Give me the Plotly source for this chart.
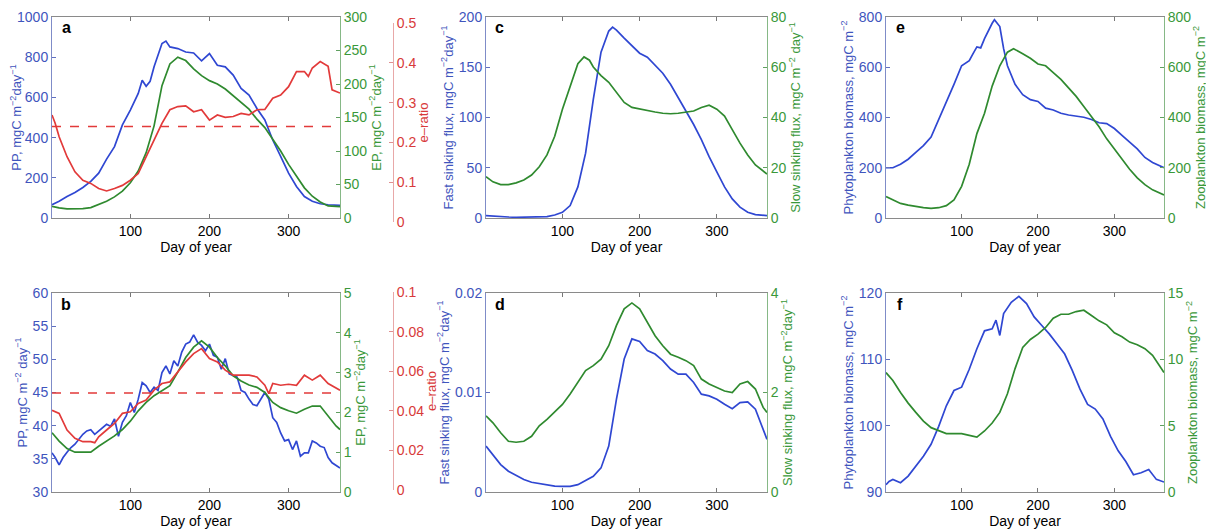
import plotly.graph_objects as go

# ---------------- data ----------------
# Panel a
a_pp_days = [1, 10, 20, 30, 40, 50, 60, 70, 80, 90, 100, 110, 115, 120, 125, 130, 140, 145, 150, 160, 170, 180, 190, 200,
             210, 220, 230, 240, 250, 260, 270, 280, 290, 300, 310, 320, 330, 340, 350, 360, 365]
a_pp = [66, 83, 107, 127, 152, 182, 223, 293, 355, 463, 537, 620, 685, 655, 680, 752, 868, 880, 851, 843, 826, 821, 782, 818,
        760, 752, 711, 645, 612, 545, 488, 388, 306, 223, 157, 107, 83, 71, 66, 66, 63]
a_ep_days = [1, 10, 20, 30, 40, 50, 60, 70, 80, 90, 100, 110, 120, 130, 140, 150, 160, 170, 180, 190, 200, 210, 220, 230,
             240, 250, 260, 270, 280, 290, 300, 310, 320, 330, 340, 350, 365]
a_ep = [17.5, 15, 13.5, 13.5, 14, 15.5, 20, 25, 31.5, 40, 52.5, 70, 97.5, 137.5, 197.5, 230, 240, 235, 222.5, 212.5, 205, 200,
        192.5, 182.5, 172.5, 162.5, 147.5, 135, 117.5, 100, 80, 62.5, 45, 32.5, 24, 18, 17]
a_er_days = [1, 5, 10, 20, 30, 40, 50, 60, 70, 80, 90, 100, 110, 120, 130, 140, 150, 160, 170, 180, 190, 200, 210, 220, 230,
             240, 250, 260, 270, 280, 290, 300, 310, 320, 325, 330, 340, 350, 355, 365]
a_er = [0.269, 0.248, 0.214, 0.164, 0.126, 0.105, 0.097, 0.084, 0.078, 0.084, 0.092, 0.105, 0.122, 0.164, 0.206, 0.248,
        0.282, 0.290, 0.292, 0.277, 0.282, 0.256, 0.269, 0.263, 0.265, 0.273, 0.269, 0.282, 0.283, 0.311, 0.319, 0.340,
        0.378, 0.378, 0.366, 0.387, 0.403, 0.391, 0.332, 0.324]
a_er_mean = 0.24

# Panel b
b_pp_days = [1, 5, 10, 15, 20, 25, 30, 35, 40, 45, 50, 55, 60, 65, 70, 75, 80, 85, 90, 95, 100, 105, 110, 115, 120, 125,
             130, 135, 140, 145, 150, 155, 160, 165, 170, 175, 180, 185, 190, 195, 200, 205, 210, 215, 220, 225, 230, 235,
             240, 245, 250, 255, 260, 265, 270, 275, 280, 285, 290, 295, 300, 305, 310, 315, 320, 325, 330, 335, 340, 345,
             350, 355, 365]
b_pp = [35.9, 35.2, 34.1, 35.2, 36.0, 36.7, 37.2, 37.9, 38.7, 39.2, 39.4, 38.7, 39.2, 39.7, 40.2, 39.9, 41.0, 38.4, 40.5,
        41.5, 43.5, 42.0, 44.0, 46.5, 46.0, 45.0, 45.8, 45.3, 48.0, 49.0, 47.8, 49.8, 49.0, 51.1, 52.3, 52.6, 53.7, 52.6,
        52.1, 51.3, 52.3, 50.6, 50.3, 48.5, 50.1, 47.8, 47.5, 47.3, 45.3, 45.0, 44.0, 43.2, 43.0, 44.0, 45.0, 44.0, 41.2,
        40.5, 38.9, 37.7, 37.9, 36.4, 37.7, 35.4, 35.9, 35.9, 37.7, 37.4, 36.9, 36.7, 35.2, 34.4, 33.6]
b_ep_days = [1, 10, 20, 30, 40, 50, 60, 70, 80, 90, 100, 110, 120, 130, 140, 150, 160, 170, 180, 190, 200, 210, 220, 230,
             240, 250, 260, 270, 280, 290, 300, 310, 320, 330, 340, 350, 360, 365]
b_ep = [1.49, 1.28, 1.09, 1.00, 1.00, 1.00, 1.15, 1.28, 1.41, 1.57, 1.78, 2.04, 2.25, 2.42, 2.54, 2.67, 3.01, 3.38, 3.64,
        3.80, 3.64, 3.38, 3.17, 2.92, 2.79, 2.69, 2.63, 2.50, 2.25, 2.12, 2.04, 1.98, 2.08, 2.16, 2.16, 1.91, 1.66, 1.57]
b_er_days = [1, 10, 20, 30, 40, 50, 55, 60, 70, 80, 90, 100, 110, 120, 130, 140, 150, 160, 170, 180, 190, 200, 210, 220,
             230, 240, 250, 260, 270, 275, 280, 290, 300, 310, 320, 330, 340, 350, 360, 365]
b_er = [0.0403, 0.0387, 0.0303, 0.0261, 0.0244, 0.0244, 0.0239, 0.0269, 0.0303, 0.0336, 0.0387, 0.0395, 0.0437, 0.0454,
        0.0504, 0.0538, 0.0546, 0.0597, 0.0647, 0.0689, 0.0714, 0.0664, 0.0647, 0.0605, 0.0580, 0.0580, 0.0580, 0.0571,
        0.0529, 0.0487, 0.0538, 0.0529, 0.0534, 0.0529, 0.0580, 0.0555, 0.0580, 0.0538, 0.0513, 0.0504]
b_er_mean = 0.049

# Panel c
c_days = [1, 10, 20, 30, 40, 50, 60, 70, 80, 90, 100, 110, 120, 130, 140, 150, 160, 165, 170, 180, 190, 200, 210, 220,
          230, 240, 250, 260, 270, 280, 290, 300, 310, 320, 330, 340, 350, 365]
c_fast = [2.4, 1.8, 1.3, 1.0, 0.7, 0.7, 0.7, 1.0, 1.3, 3, 5.7, 12.4, 30.9, 64.5, 118, 165, 186, 190, 187, 179, 172, 164,
          160, 152, 144, 133, 120, 107, 93, 78, 61, 46, 31, 19, 10.8, 5.7, 3.4, 2.4]
c_slow_days = [1, 10, 20, 30, 40, 50, 60, 70, 80, 90, 100, 110, 120, 128, 135, 140, 150, 160, 170, 180, 190, 200, 210,
               220, 230, 240, 250, 260, 270, 280, 290, 300, 310, 320, 330, 340, 350, 365]
c_slow = [16.4, 14.4, 13.3, 13.3, 14.0, 15.1, 17.1, 20.4, 25.1, 32.5, 43.3, 52.7, 61.4, 64.1, 62.8, 60.1, 56.7, 54.0,
          50.0, 46.0, 44.0, 43.3, 42.6, 42.2, 41.7, 41.5, 41.7, 42.2, 42.6, 44.0, 44.9, 43.3, 40.6, 35.2, 29.8, 25.1, 21.1,
          17.5]

# Panel d
d_days = [1, 10, 20, 30, 40, 50, 60, 70, 80, 90, 100, 110, 120, 130, 140, 150, 160, 170, 180, 190, 200, 210, 220, 230,
          240, 250, 260, 270, 280, 290, 300, 310, 320, 330, 340, 350, 360, 365]
d_fast = [0.00461, 0.00377, 0.00276, 0.00209, 0.00165, 0.00125, 0.00098, 0.00084, 0.00074, 0.00060, 0.00057, 0.00057,
          0.00074, 0.00118, 0.00158, 0.00242, 0.00461, 0.00933, 0.01337, 0.01539, 0.01512, 0.01421, 0.01387, 0.01320,
          0.01236, 0.01185, 0.01185, 0.01101, 0.00983, 0.00966, 0.00933, 0.00882, 0.00838, 0.00899, 0.00906, 0.00832,
          0.00630, 0.00529]
d_slow = [1.53, 1.39, 1.19, 1.02, 1.00, 1.02, 1.12, 1.33, 1.46, 1.60, 1.76, 1.97, 2.20, 2.44, 2.54, 2.67, 2.94, 3.35,
          3.68, 3.80, 3.68, 3.41, 3.14, 2.94, 2.77, 2.71, 2.64, 2.54, 2.27, 2.17, 2.10, 2.03, 2.00, 2.17, 2.22, 2.07, 1.70,
          1.60]

# Panel e
e_phy_days = [1, 10, 20, 30, 40, 50, 60, 70, 80, 90, 100, 110, 115, 120, 125, 130, 140, 143, 150, 155, 160, 170, 180,
              190, 200, 210, 220, 230, 240, 250, 260, 270, 280, 290, 300, 310, 320, 330, 340, 350, 365]
e_phy = [200, 200, 214, 234, 261, 288, 322, 390, 457, 532, 606, 626, 654, 681, 677, 714, 775, 789, 762, 674, 606, 532,
         491, 471, 464, 437, 430, 417, 410, 406, 401, 392, 379, 376, 356, 329, 302, 275, 241, 221, 200]
e_zoo_days = [1, 10, 20, 30, 40, 50, 60, 70, 80, 90, 100, 110, 120, 130, 140, 150, 160, 168, 180, 190, 200, 210, 220,
              230, 240, 250, 260, 270, 280, 290, 300, 310, 320, 330, 340, 350, 365]
e_zoo = [85, 72, 58, 51, 45, 41, 38, 41, 49, 72, 126, 214, 336, 417, 525, 606, 660, 674, 654, 636, 613, 606, 579, 552,
         518, 484, 444, 403, 363, 315, 275, 234, 194, 160, 133, 112, 92]

# Panel f
f_phy_days = [1, 5, 10, 20, 30, 40, 50, 60, 70, 80, 90, 100, 110, 120, 130, 140, 145, 150, 155, 165, 175, 185, 195, 205,
              215, 225, 235, 245, 255, 265, 275, 285, 295, 305, 315, 325, 335, 345, 355, 365]
f_phy = [91.1, 91.6, 91.9, 91.4, 92.4, 93.9, 95.4, 97.2, 99.9, 103.0, 105.3, 105.8, 108.5, 111.6, 114.3, 114.6, 115.9,
         113.6, 116.9, 118.6, 119.5, 118.4, 116.4, 115.1, 113.8, 112.3, 110.8, 108.3, 105.5, 103.2, 102.5, 101.0, 98.4,
         96.2, 94.6, 92.6, 92.9, 93.4, 91.9, 91.5]
f_zoo_days = [1, 10, 20, 30, 40, 50, 60, 70, 80, 90, 100, 110, 120, 130, 140, 150, 160, 170, 180, 190, 200, 210, 220,
              230, 240, 250, 260, 270, 280, 290, 300, 310, 320, 330, 340, 350, 360, 365]
f_zoo = [9.0, 8.4, 7.5, 6.7, 6.0, 5.35, 4.85, 4.6, 4.4, 4.4, 4.4, 4.27, 4.14, 4.6, 5.2, 6.0, 7.4, 9.3, 10.9, 11.5, 11.9,
         12.4, 13.1, 13.4, 13.4, 13.6, 13.7, 13.3, 12.9, 12.6, 12.0, 11.7, 11.3, 11.1, 10.8, 10.3, 9.4, 9.0]

x_ticks = [100, 200, 300]

# ---------------- styling ----------------
OFF = 8                      # page body margin of the html page
W, H = 1214 - OFF, 529 - OFF
BLUE = '#2f47d2'
BLUE_T = '#3f55bd'
GREEN = '#2f8a2f'
GREEN_T = '#3a983a'
RED = '#e23a3a'
RED_T = '#d83a3a'
FONT = 'Liberation Sans, Arial, sans-serif'
LW = 1.7
TICK_FS = 14
TITLE_FS = 13

# panel boxes in screen pixels
cols = [(52, 340), (486, 767), (886, 1164)]
rows = [(17, 218), (293, 492)]
red_rows = [(23, 222), (292, 490)]   # the e-ratio axes sit slightly lower


def fx(px):
    return (px - OFF) / W


def fy(py):
    return 1 - (py - OFF) / H


def xd(c):
    return [fx(cols[c][0]), fx(cols[c][1])]


def yd(r, rr=rows):
    return [fy(rr[r][1]), fy(rr[r][0])]


def yname(n):
    return 'y' if n == 1 else f'y{n}'


def ykey(n):
    return 'yaxis' if n == 1 else f'yaxis{n}'


def xname(n):
    return 'x' if n == 1 else f'x{n}'


def xkey(n):
    return 'xaxis' if n == 1 else f'xaxis{n}'


UNIT = 'mgC m<sup>−2</sup>day<sup>−1</sup>'
panels = [
    dict(letter='a', col=0, row=0,
         left=dict(range=[0, 1000], dtick=200, title='PP, ' + UNIT),
         right=dict(range=[0, 300], dtick=50, title='EP, ' + UNIT),
         blue=(a_pp_days, a_pp), green=(a_ep_days, a_ep),
         red=dict(range=[0, 0.5], dtick=0.1, data=(a_er_days, a_er), mean=a_er_mean)),
    dict(letter='b', col=0, row=1,
         left=dict(range=[30, 60], dtick=5, title='PP, mgC m<sup>−2</sup> day<sup>−1</sup>'),
         right=dict(range=[0, 5], dtick=1, title='EP, ' + UNIT),
         blue=(b_pp_days, b_pp), green=(b_ep_days, b_ep),
         red=dict(range=[0, 0.1], dtick=0.02, data=(b_er_days, b_er), mean=b_er_mean)),
    dict(letter='c', col=1, row=0,
         left=dict(range=[0, 200], dtick=50, title='Fast sinking flux, ' + UNIT),
         right=dict(range=[0, 80], dtick=20, title='Slow sinking flux, mgC m<sup>−2</sup> day<sup>−1</sup>'),
         blue=(c_days, c_fast), green=(c_slow_days, c_slow)),
    dict(letter='d', col=1, row=1,
         left=dict(range=[0, 0.02], dtick=0.01, title='Fast sinking flux, ' + UNIT),
         right=dict(range=[0, 4], dtick=2, title='Slow sinking flux, ' + UNIT),
         blue=(d_days, d_fast), green=(d_days, d_slow)),
    dict(letter='e', col=2, row=0,
         left=dict(range=[0, 800], dtick=200, title='Phytoplankton biomass, mgC m<sup>−2</sup>'),
         right=dict(range=[0, 800], dtick=200, title='Zooplankton biomass, mgC m<sup>−2</sup>'),
         blue=(e_phy_days, e_phy), green=(e_zoo_days, e_zoo)),
    dict(letter='f', col=2, row=1,
         left=dict(range=[90, 120], dtick=10, title='Phytoplankton biomass, mgC m<sup>−2</sup>'),
         right=dict(range=[0, 15], dtick=5, title='Zooplankton biomass, mgC m<sup>−2</sup>'),
         blue=(f_phy_days, f_phy), green=(f_zoo_days, f_zoo)),
]

fig = go.Figure()
layout = dict(
    width=W, height=H,
    margin=dict(l=0, r=0, t=0, b=0, autoexpand=False),
    paper_bgcolor='white', plot_bgcolor='rgba(0,0,0,0)',
    showlegend=False,
    font=dict(family=FONT, size=13, color='black'),
    annotations=[],
)

extra = 13
for i, p in enumerate(panels, start=1):
    xn = xname(i)
    ln, rn = 2 * i - 1, 2 * i
    layout[xkey(i)] = dict(
        domain=xd(p['col']), anchor=yname(ln), range=[1, 365], automargin=False,
        tickvals=x_ticks, ticks='inside', ticklen=4, tickcolor='#777777',
        showline=True, linecolor='#8a8a8a', linewidth=1, mirror='ticks',
        showgrid=False, zeroline=False,
        tickfont=dict(size=TICK_FS, color='black', family=FONT),
        title=dict(text='Day of year', font=dict(size=TITLE_FS + 1, color='black', family=FONT), standoff=0),
    )
    layout[ykey(ln)] = dict(
        domain=yd(p['row']), anchor=xn, range=p['left']['range'], dtick=p['left']['dtick'], automargin=False,
        ticks='inside', ticklen=4, tickcolor='#6070c0',
        showline=True, linecolor='#7f8cc8', linewidth=1,
        showgrid=False, zeroline=False,
        tickfont=dict(size=TICK_FS, color=BLUE_T, family=FONT),
        title=dict(text=p['left']['title'], font=dict(size=TITLE_FS, color=BLUE_T, family=FONT), standoff=2),
    )
    layout[ykey(rn)] = dict(
        overlaying=yname(ln), side='right', anchor=xn, automargin=False,
        range=p['right']['range'], dtick=p['right']['dtick'],
        ticks='inside', ticklen=4, tickcolor='#60a060',
        showline=True, linecolor='#86b886', linewidth=1,
        showgrid=False, zeroline=False,
        tickfont=dict(size=TICK_FS, color=GREEN_T, family=FONT),
        title=dict(text=p['right']['title'], font=dict(size=TITLE_FS, color=GREEN_T, family=FONT), standoff=2),
    )
    fig.add_trace(go.Scatter(x=p['blue'][0], y=p['blue'][1], mode='lines',
                             line=dict(color=BLUE, width=LW), xaxis=xn, yaxis=yname(ln)))
    fig.add_trace(go.Scatter(x=p['green'][0], y=p['green'][1], mode='lines',
                             line=dict(color=GREEN, width=LW), xaxis=xn, yaxis=yname(rn)))
    if 'red' in p:
        rid = extra
        extra += 1
        r = p['red']
        layout[ykey(rid)] = dict(
            domain=yd(p['row'], red_rows),
            side='right', anchor='free', position=fx(393), automargin=False,
            range=r['range'], dtick=r['dtick'],
            ticks='inside', ticklen=4, tickcolor='#e09090',
            showline=True, linecolor='#e8a8a8', linewidth=1,
            showgrid=False, zeroline=False,
            tickfont=dict(size=TICK_FS, color=RED_T, family=FONT),
            title=dict(text='e–ratio', font=dict(size=TITLE_FS, color=RED_T, family=FONT), standoff=2),
        )
        fig.add_trace(go.Scatter(x=r['data'][0], y=r['data'][1], mode='lines',
                                 line=dict(color=RED, width=LW), xaxis=xn, yaxis=yname(rid)))
        fig.add_trace(go.Scatter(x=[1, 365], y=[r['mean'], r['mean']], mode='lines',
                                 line=dict(color=RED, width=LW, dash='dash'), xaxis=xn, yaxis=yname(rid)))
    layout['annotations'].append(dict(
        text=f"<b>{p['letter']}</b>", xref='paper', yref='paper',
        x=fx(cols[p['col']][0] + 14), y=fy(rows[p['row']][0] + 11),
        xanchor='center', yanchor='middle', showarrow=False,
        font=dict(size=16, color='black', family=FONT)))

fig.update_layout(**layout)
fig.write_html('out.html')
